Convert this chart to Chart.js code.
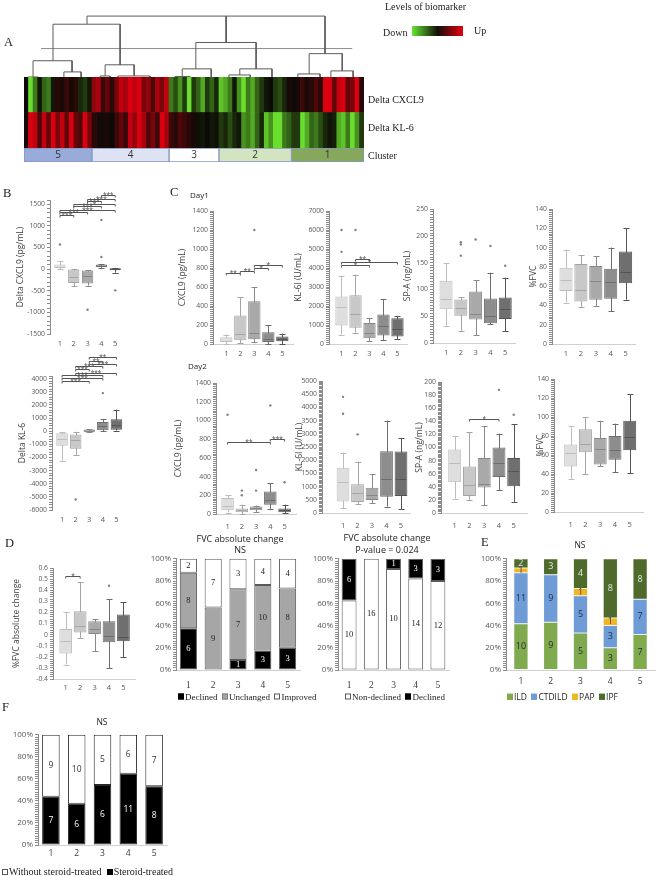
<!DOCTYPE html>
<html>
<head>
<meta charset="utf-8">
<script src="https://cdn.jsdelivr.net/npm/chart.js@4"></script>
<style>
  body { margin: 0; background: #fff; }
  #page { position: relative; width: 658px; height: 876px; overflow: hidden; }
  canvas { position: absolute; }
  .t { position: absolute; white-space: nowrap; line-height: 1; color: #222; will-change: transform; }
  .serif { font-family: 'Liberation Serif', serif; }
  .sans { font-family: 'Open Sans', sans-serif; }
</style>
</head>
<body>
<div id="page"></div>
<script>
// ---------- data ----------
const groups = [1, 2, 3, 4, 5];

// Panel A: heatmap columns (patients ordered by cluster 5,4,3,2,1), scaled deltas
const cxcl9Delta = [0, -1, -0.6, -0.1, -0.5, -0.6, -0.1, 0.2, 0.1, 0.3, 0.1, 0.2, -0.2, -0.3, -0.1,
  0.7, 0.8, 0.3, 0.5, 0.2, 0.6, 0.9, 0.8, 1, 0.9, 1, 0.6, 0.7, 0.4, 0.8, 0.6, 0.9,
  -0.6, -0.4, -0.7, -0.3, -1, -0.3, -0.5, -0.8, -0.3, -0.5, -0.2,
  -0.9, -0.8, -0.6, -0.1, -0.7, -1, -0.6, -0.8, -0.5, -0.3, -0.1, 0, -0.3, -0.4, -0.2, 0.1,
  0, 0.1, 0.3, 0.1, 0.2, 0.4, 0.2, 1, 1, 0.5, 0.9, 1, 0.5, 0.6, 1, 0.2];
const kl6Delta = [0.1, 1, 0.9, 0.4, 0.9, 0.5, 1, 0.6, 0.9, 0.5, 1, 0.5, 0.4, 1, 0.6,
  0.2, 0.1, 0.05, 0.1, 0, 0.3, 0.5, 0.3, 0.9, 0.7, 1, 0.8, 0.4, 0.6, 0.3, 1, 0.8,
  0.3, 0.2, 0.4, 0.3, 0.2, 0.1, -0.05, -0.1, 0, -0.1, -0.05,
  -0.3, -0.2, -0.4, -0.2, -0.1, -0.7, -0.6, -0.8, -0.5, -0.2, -0.9, -0.7, -1, -1, -0.6, -0.5,
  -0.3, -0.3, -1, -0.8, -0.5, -0.6, -0.4, -0.2, -0.1, -0.15, -0.8, -0.9, -0.6, -1, -0.7, -0.3];
const clusterOrder = ['5', '4', '3', '2', '1'];
const clusterSizes = [15, 17, 11, 16, 16];
const clusterFills = ['#98abd9', '#dde3f2', '#ffffff', '#d3e4c1', '#86a85b'];
// dendrogram merges: [left x, right x, join height, left child height, right child height] (x in columns)
const dendroLinks = [
  [13.9, 44.6, 61, 53, 35], [44.6, 66.4, 61, 35, 24],
  [6.4, 21.2, 53, 17, 13], [2.0, 10.6, 17, 1, 6], [0.9, 3.1, 1, 0, 0], [8.8, 12.6, 6, 0, 0],
  [17.9, 24.3, 13, 2, 2], [16.8, 19.0, 2, 0, 0], [20.7, 27.8, 2, 0, 0],
  [37.9, 51.2, 35, 9, 9], [34.9, 41.3, 9, 1.5, 0], [33.3, 36.6, 1.5, 0, 0],
  [47.6, 54.7, 9, 3, 0], [45.2, 49.9, 3, 0, 0],
  [62.9, 70.2, 24, 4, 7], [60.4, 65.3, 4, 0, 0], [67.7, 72.6, 7, 0, 0]
];
const cutLine = [3.75, 72.4, 29];

// Box plots: [min, q1, median, q3, max]; outliers [cluster, value]; brackets [from, to, level, label]
const deltaCxcl9Box = [[0, 20, 50, 110, 180], [-400, -320, -170, -10, 10], [-380, -330, -150, -30, -20], [30, 45, 80, 106, 120], [-80, -25, -5, 20, 30]];
const deltaCxcl9Out = [[1, 570], [3, -940], [4, 1140], [4, 280], [5, -490]];
const deltaCxcl9Sig = [[1, 2, 1260, '***'], [1, 3, 1320, '***'], [1, 5, 1380, '***'], [2, 4, 1450, '***'], [2, 5, 1510, '*'], [3, 4, 1570, '***'], [3, 5, 1630, '***'], [4, 5, 1720, '***']];

const deltaKl6Box = [[-2250, -1100, -600, -150, -100], [-1800, -1330, -640, -250, -50], [-60, -40, 30, 120, 150], [0, 80, 380, 700, 920], [50, 100, 460, 900, 1640]];
const deltaKl6Out = [[2, -5200], [4, 2900]];
const deltaKl6Sig = [[1, 3, 3850, '***'], [1, 4, 4080, '***'], [1, 4, 4270, '***'], [2, 5, 4450, '***'], [2, 3, 4700, '***'], [2, 4, 4950, '***'], [3, 5, 5150, '***'], [3, 4, 5370, '**'], [3, 5, 5620, '**']];

const cxcl9Day1Box = [[0, 20, 35, 70, 100], [10, 40, 110, 300, 490], [20, 50, 120, 450, 600], [0, 20, 50, 125, 200], [0, 30, 50, 80, 110]];
const cxcl9Day1Out = [[3, 1200]];
const cxcl9Day1Sig = [[1, 2, 750, '**'], [2, 3, 772, '**'], [3, 4, 800, '*'], [3, 5, 835, '*']];

const kl6Day1Box = [[500, 970, 1950, 2500, 3600], [600, 860, 1600, 2560, 3650], [150, 300, 600, 1100, 1380], [200, 450, 950, 1550, 2350], [250, 400, 800, 1350, 1480]];
const kl6Day1Out = [[1, 6000], [1, 4850], [2, 6000]];
const kl6Day1Sig = [[1, 3, 4180, '*'], [1, 5, 4330, '*'], [2, 3, 4480, '**']];

const spaDay1Box = [[32, 63, 82, 116, 149], [22, 51, 65, 81, 85], [14, 44, 55, 96, 117], [35, 37, 50, 83, 131], [22, 45, 63, 85, 122]];
const spaDay1Out = [[2, 188], [2, 184], [2, 163], [3, 193], [4, 181], [5, 144]];

const fvcDay1Box = [[43, 55, 66, 79, 98], [38, 44, 56, 83, 92], [39, 46, 65, 81, 91], [34, 47, 64, 78, 100], [46, 63, 75, 96, 120]];

const cxcl9Day2Box = [[15, 40, 90, 170, 200], [0, 20, 40, 60, 100], [20, 40, 60, 80, 90], [50, 100, 150, 240, 330], [10, 20, 40, 60, 100]];
const cxcl9Day2Out = [[1, 1060], [2, 250], [2, 200], [3, 470], [3, 250], [4, 1160], [5, 340]];
const cxcl9Day2Sig = [[1, 4, 770, '**'], [4, 5, 800, '***']];

const kl6Day2Box = [[180, 440, 1180, 1710, 2290], [350, 420, 770, 1090, 1950], [370, 490, 680, 960, 1480], [240, 620, 1270, 2340, 3500], [150, 640, 1300, 2330, 2850]];
const kl6Day2Out = [[1, 4400], [1, 3760], [2, 2980]];

const spaDay2Box = [[22, 47, 77, 97, 118], [20, 26, 42, 71, 123], [12, 39, 45, 84, 133], [35, 55, 77, 100, 121], [17, 41, 64, 84, 136]];
const spaDay2Out = [[4, 188], [5, 150]];
const spaDay2Sig = [[2, 4, 143, '*']];

const fvcDay2Box = [[35, 48, 62, 71, 90], [40, 63, 72, 87, 100], [48, 50, 66, 78, 96], [42, 55, 65, 80, 93], [41, 65, 79, 96, 124]];

const fvcChangeBox = [[-0.27, -0.17, -0.06, 0.05, 0.2], [-0.03, 0.02, 0.08, 0.21, 0.47], [-0.15, 0, 0.05, 0.12, 0.14], [-0.3, -0.07, -0.01, 0.12, 0.32], [-0.2, -0.06, -0.02, 0.18, 0.29]];
const fvcChangeOut = [[4, 0.44]];
const fvcChangeSig = [[1, 2, 0.53, '*']];

// Stacked bars (patient counts)
const declined = [6, 0, 1, 3, 3];
const unchanged = [8, 9, 7, 10, 8];
const improved = [2, 7, 3, 4, 4];
const nonDeclined = [10, 16, 10, 14, 12];
const ild = [10, 9, 5, 3, 7];
const ctdild = [11, 9, 5, 3, 7];
const pap = [1, 0, 1, 1, 0];
const ipf = [2, 3, 4, 8, 8];
const steroid = [7, 6, 6, 11, 8];
const noSteroid = [9, 10, 5, 6, 7];

// ---------- helpers ----------
Chart.defaults.font.family = "'Open Sans', sans-serif";
Chart.defaults.color = '#595959';
const page = document.getElementById('page');
const boxFills = ['#dedede', '#c8c8c8', '#a9a9a9', '#8d8d8d', '#6f6f6f'];
const boxLines = ['#bdbdbd', '#a5a5a5', '#888888', '#6d6d6d', '#545454'];

function addCanvas(x, y, w, h) {
  const c = document.createElement('canvas');
  c.width = w; c.height = h;
  c.style.left = x + 'px'; c.style.top = y + 'px';
  c.style.width = w + 'px'; c.style.height = h + 'px';
  page.appendChild(c);
  return c;
}

function txt(s, x, cy, size, cls, align) {
  const d = document.createElement('div');
  d.className = 't ' + cls;
  d.textContent = s;
  d.style.fontSize = size + 'px';
  d.style.left = x + 'px';
  d.style.top = cy + 'px';
  d.style.transform = align === 'center' ? 'translate(-50%,-50%)' : 'translateY(-50%)';
  page.appendChild(d);
}

function legend(x, cy, items, cls, size) {
  const d = document.createElement('div');
  d.className = 't ' + cls;
  d.style.fontSize = size + 'px';
  d.style.left = x + 'px';
  d.style.top = cy + 'px';
  d.style.transform = 'translateY(-50%)';
  d.innerHTML = items.map(it =>
    '<span style="display:inline-block;width:6px;height:6px;box-sizing:border-box;margin-right:1px;background:' +
    it.fill + ';border:1px solid ' + it.edge + '"></span>' + it.label).join('&nbsp;&nbsp;');
  page.appendChild(d);
}

// whiskers, medians and significance brackets for the box plots
Chart.register({
  id: 'boxExtras',
  beforeDatasetsDraw(chart, args, opts) {
    if (!opts.stats) return;
    const { ctx, scales: { x, y } } = chart;
    ctx.save();
    ctx.lineWidth = 1;
    opts.stats.forEach((s, i) => {
      const cx = Math.round(x.getPixelForValue(groups[i])) + 0.5;
      ctx.strokeStyle = boxLines[i];
      ctx.beginPath();
      ctx.moveTo(cx, y.getPixelForValue(s[0]));
      ctx.lineTo(cx, y.getPixelForValue(s[4]));
      [s[0], s[4]].forEach(v => {
        const py = Math.round(y.getPixelForValue(v)) + 0.5;
        ctx.moveTo(cx - 3, py); ctx.lineTo(cx + 3, py);
      });
      ctx.stroke();
    });
    ctx.restore();
  },
  afterDatasetsDraw(chart, args, opts) {
    if (!opts.stats) return;
    const { ctx, scales: { x, y } } = chart;
    const meta = chart.getDatasetMeta(0);
    ctx.save();
    ctx.lineWidth = 1;
    opts.stats.forEach((s, i) => {
      const el = meta.data[i];
      const py = Math.round(y.getPixelForValue(s[2])) + 0.5;
      ctx.strokeStyle = boxLines[i];
      ctx.beginPath();
      ctx.moveTo(el.x - el.width / 2 + 1, py); ctx.lineTo(el.x + el.width / 2 - 1, py);
      ctx.stroke();
    });
    ctx.strokeStyle = '#555';
    ctx.fillStyle = '#444';
    ctx.font = "6.5px 'Open Sans'";
    ctx.textAlign = 'center';
    ctx.textBaseline = 'bottom';
    (opts.brackets || []).forEach(([a, b, v, lab]) => {
      const x1 = x.getPixelForValue(a), x2 = x.getPixelForValue(b);
      const py = Math.round(y.getPixelForValue(v)) + 0.5;
      ctx.beginPath();
      ctx.moveTo(x1, py + 2); ctx.lineTo(x1, py); ctx.lineTo(x2, py); ctx.lineTo(x2, py + 2);
      ctx.stroke();
      ctx.fillText(lab, (x1 + x2) / 2, py + 2.5);
    });
    ctx.restore();
  }
});

// text inside stacked segments
Chart.register({
  id: 'segLabels',
  afterDatasetsDraw(chart, args, opts) {
    if (!opts.text) return;
    const ctx = chart.ctx;
    ctx.save();
    ctx.font = opts.font;
    ctx.textAlign = 'center';
    ctx.textBaseline = 'middle';
    chart.data.datasets.forEach((ds, di) => {
      chart.getDatasetMeta(di).data.forEach((el, i) => {
        const s = opts.text[di][i];
        if (!s) return;
        ctx.fillStyle = opts.colors[di];
        const horiz = chart.options.indexAxis === 'y';
        ctx.fillText(String(s), horiz ? (el.x + el.base) / 2 : el.x, horiz ? el.y + 0.5 : (el.y + el.base) / 2);
      });
    });
    ctx.restore();
  }
});

function boxChart(o) {
  const padT = o.padT || 12, padB = 20, padR = 4;
  const cv = addCanvas(o.l - o.padL, o.t - padT, o.padL + (o.r - o.l) + padR, padT + (o.b - o.t) + padB);
  const isMajor = v => Math.abs(v / o.major - Math.round(v / o.major)) < 1e-6;
  new Chart(cv, {
    type: 'bar',
    data: {
      datasets: [
        {
          data: o.stats.map((s, i) => ({ x: groups[i], y: [s[1], s[3]] })),
          backgroundColor: boxFills, borderColor: boxLines, borderWidth: 1, borderSkipped: false,
          barPercentage: o.barPct || 0.88, categoryPercentage: 1, order: 2
        },
        {
          type: 'scatter',
          data: (o.outliers || []).map(p => ({ x: p[0], y: p[1] })),
          pointRadius: 1.2, backgroundColor: '#808080', borderColor: '#808080', borderWidth: 0, order: 1
        }
      ]
    },
    options: {
      responsive: false, animation: false, devicePixelRatio: 1,
      layout: { padding: { top: padT, right: padR } },
      plugins: {
        legend: { display: false }, tooltip: { enabled: false },
        boxExtras: { stats: o.stats, brackets: o.brackets || [] }
      },
      scales: {
        x: {
          type: 'linear', offset: false, min: o.xMin, max: o.xMax,
          afterFit: s => { s.height = padB; },
          afterBuildTicks: s => { s.ticks = groups.map(v => ({ value: v })); },
          grid: { display: false, drawTicks: false }, border: { color: o.xLine || '#d0d0d0' },
          ticks: {
            autoSkip: false, maxRotation: 0, padding: o.xPad || 5,
            font: { size: 7.5 }, color: '#595959',
            callback: v => String(v)
          }
        },
        y: {
          min: o.yMin, max: o.yMax,
          afterFit: s => { s.width = o.padL; },
          border: { color: '#8c8c8c' },
          grid: { drawOnChartArea: false, tickLength: 3, color: '#8c8c8c' },
          ticks: {
            stepSize: o.minor, autoSkip: false, padding: 2, font: { size: 6.8 }, color: '#595959',
            callback: v => isMajor(v) ? String(+v.toFixed(2)) : ''
          },
          title: { display: true, text: o.title, font: { size: 8.5 }, color: '#404040', padding: 0 }
        }
      }
    }
  });
}

function stackChart(o) {
  const padT = 6, padR = 2;
  const totals = groups.map((g, i) => o.series.reduce((a, s) => a + s.counts[i], 0));
  const cv = addCanvas(o.l - o.padL, o.t - padT, o.padL + (o.r - o.l) + padR, padT + (o.b - o.t) + o.padB);
  new Chart(cv, {
    type: 'bar',
    data: {
      labels: groups.map(String),
      datasets: o.series.map(s => ({
        label: s.label,
        data: s.counts.map((c, i) => c / totals[i] * 100),
        backgroundColor: s.fill, borderColor: o.edge, borderWidth: o.edgeW, borderSkipped: false,
        barPercentage: o.barPct, categoryPercentage: 1
      }))
    },
    options: {
      responsive: false, animation: false, devicePixelRatio: 1,
      layout: { padding: { top: padT, right: padR } },
      plugins: {
        legend: { display: false }, tooltip: { enabled: false },
        segLabels: { text: o.series.map(s => s.counts), colors: o.series.map(s => s.text), font: o.labelFont }
      },
      scales: {
        x: {
          stacked: true, afterFit: s => { s.height = o.padB; },
          grid: { display: false, drawTicks: false }, border: { color: '#d0d0d0' },
          ticks: { padding: o.xPad, font: o.xFont, color: '#404040', maxRotation: 0 }
        },
        y: {
          stacked: true, min: 0, max: 100,
          afterFit: s => { s.width = o.padL; },
          border: { color: '#8c8c8c' },
          grid: { drawOnChartArea: false, tickLength: 3, color: '#8c8c8c' },
          ticks: {
            stepSize: 2, autoSkip: false, padding: 2, font: { size: 8 }, color: '#595959',
            callback: v => Math.round(v) % 20 === 0 ? Math.round(v) + '%' : ''
          }
        }
      }
    }
  });
}

function heatColor(v) {
  const base = [12, 10, 6];
  const top = v < 0 ? [105, 222, 45] : [218, 0, 16];
  const t = Math.pow(Math.min(1, Math.abs(v)), 1.25);
  return 'rgb(' + base.map((b, j) => Math.round(b + (top[j] - b) * t)).join(',') + ')';
}

// ---------- Panel A ----------
const dendroPts = [];
dendroLinks.forEach(([xl, xr, h, hl, hr]) => {
  dendroPts.push({ x: xl, y: hl }, { x: xl, y: h }, { x: xr, y: h }, { x: xr, y: hr }, { x: xr, y: null });
});
new Chart(addCanvas(24, 10, 340, 68), {
  type: 'scatter',
  data: {
    datasets: [
      { data: dendroPts, showLine: true, spanGaps: false, borderColor: '#5c5c5c', borderWidth: 1, pointRadius: 0 },
      { data: [{ x: cutLine[0], y: cutLine[2] }, { x: cutLine[1], y: cutLine[2] }], showLine: true, borderColor: '#8c8c8c', borderWidth: 1, pointRadius: 0 }
    ]
  },
  options: {
    responsive: false, animation: false, devicePixelRatio: 1,
    plugins: { legend: { display: false }, tooltip: { enabled: false } },
    scales: { x: { display: false, min: 0, max: 75 }, y: { display: false, min: 0, max: 67 } }
  }
});

const patients = cxcl9Delta.map((v, i) => i + 1);
new Chart(addCanvas(24, 77, 340, 71), {
  type: 'bar',
  data: {
    labels: patients,
    datasets: [
      { data: kl6Delta.map(() => 1), backgroundColor: kl6Delta.map(heatColor) },
      { data: cxcl9Delta.map(() => 1), backgroundColor: cxcl9Delta.map(heatColor) }
    ]
  },
  options: {
    responsive: false, animation: false, devicePixelRatio: 1,
    datasets: { bar: { barPercentage: 1, categoryPercentage: 1, borderWidth: 0 } },
    plugins: { legend: { display: false }, tooltip: { enabled: false } },
    scales: { x: { display: false, stacked: true }, y: { display: false, stacked: true, min: 0, max: 2 } }
  }
});

new Chart(addCanvas(24, 148, 340, 14), {
  type: 'bar',
  data: {
    labels: ['Cluster'],
    datasets: clusterOrder.map((c, k) => ({
      data: [clusterSizes[k]], backgroundColor: clusterFills[k],
      borderColor: '#8595c2', borderWidth: 1, borderSkipped: false,
      barPercentage: 1, categoryPercentage: 1
    }))
  },
  options: {
    indexAxis: 'y', responsive: false, animation: false, devicePixelRatio: 1,
    plugins: {
      legend: { display: false }, tooltip: { enabled: false },
      segLabels: { text: clusterOrder.map(c => [c]), colors: clusterOrder.map(() => '#333'), font: "10px 'Open Sans'" }
    },
    scales: { x: { display: false, stacked: true, min: 0, max: 75 }, y: { display: false, stacked: true } }
  }
});

// ---------- Panel B ----------
boxChart({ l: 50, t: 200, r: 125, b: 334, padL: 35, padT: 26, xMin: 0.28, xMax: 5.71, xLine: 'rgba(0,0,0,0)', xPad: 5,
  yMin: -1500, yMax: 1600, major: 500, minor: 100, title: 'Delta CXCL9 (pg/mL)',
  stats: deltaCxcl9Box, outliers: deltaCxcl9Out, brackets: deltaCxcl9Sig, barPct: 0.82 });
boxChart({ l: 52, t: 376, r: 125, b: 510, padL: 35, padT: 28, xMin: 0.26, xMax: 5.63, xLine: 'rgba(0,0,0,0)', xPad: 5,
  yMin: -6000, yMax: 4200, major: 1000, minor: 200, title: 'Delta KL-6',
  stats: deltaKl6Box, outliers: deltaKl6Out, brackets: deltaKl6Sig, barPct: 0.85 });

// ---------- Panel C ----------
boxChart({ l: 213, t: 211, r: 293, b: 344, padL: 36, xMin: 0.05, xMax: 5.76,
  yMin: 0, yMax: 1400, major: 200, minor: 20, title: 'CXCL9 (pg/mL)',
  stats: cxcl9Day1Box, outliers: cxcl9Day1Out, brackets: cxcl9Day1Sig });
boxChart({ l: 329, t: 211, r: 407, b: 344, padL: 36, xMin: 0.107, xMax: 5.68,
  yMin: 0, yMax: 7000, major: 1000, minor: 100, title: 'KL-6I (U/mL)',
  stats: kl6Day1Box, outliers: kl6Day1Out, brackets: kl6Day1Sig });
boxChart({ l: 433, t: 209, r: 515, b: 343, padL: 31, xMin: 0.12, xMax: 5.66,
  yMin: 0, yMax: 250, major: 50, minor: 5, title: 'SP-A (ng/mL)',
  stats: spaDay1Box, outliers: spaDay1Out });
boxChart({ l: 552, t: 209, r: 635, b: 344, padL: 24, xMin: 0.06, xMax: 5.63,
  yMin: 0, yMax: 140, major: 20, minor: 2, title: '%FVC',
  stats: fvcDay1Box });

boxChart({ l: 216, t: 383, r: 296, b: 514, padL: 43, xMin: 0.19, xMax: 5.8, xPad: 8,
  yMin: 0, yMax: 1400, major: 200, minor: 20, title: 'CXCL9 (pg/mL)',
  stats: cxcl9Day2Box, outliers: cxcl9Day2Out, brackets: cxcl9Day2Sig });
boxChart({ l: 322, t: 381, r: 410, b: 513, padL: 28, xMin: -0.45, xMax: 5.62, xPad: 8,
  yMin: 0, yMax: 5000, major: 500, minor: 50, title: 'KL-6I (U/mL)',
  stats: kl6Day2Box, outliers: kl6Day2Out });
boxChart({ l: 441, t: 382, r: 527, b: 513, padL: 27, xMin: 0.07, xMax: 5.9, xPad: 8,
  yMin: 0, yMax: 200, major: 20, minor: 2, title: 'SP-A (ng/mL)',
  stats: spaDay2Box, outliers: spaDay2Out, brackets: spaDay2Sig });
boxChart({ l: 554, t: 379, r: 643, b: 512, padL: 19, xMin: -0.13, xMax: 5.9, xPad: 8,
  yMin: 0, yMax: 140, major: 20, minor: 2, title: '%FVC',
  stats: fvcDay2Box });

// ---------- Panel D ----------
boxChart({ l: 53, t: 568, r: 135, b: 679, padL: 42, xMin: 0.12, xMax: 5.8, xPad: 4,
  yMin: -0.4, yMax: 0.6, major: 0.1, minor: 0.02, title: '%FVC absolute change',
  stats: fvcChangeBox, outliers: fvcChangeOut, brackets: fvcChangeSig });

const serifLabel = "8.5px 'Liberation Serif'";
stackChart({ l: 176, t: 558, r: 300, b: 670, padL: 32, padB: 22, xPad: 10, barPct: 0.69,
  edge: '#595959', edgeW: 1, labelFont: serifLabel, xFont: { family: "'Liberation Serif'", size: 9.5 },
  series: [
    { label: 'Declined', counts: declined, fill: '#000000', text: '#ffffff' },
    { label: 'Unchanged', counts: unchanged, fill: '#a6a6a6', text: '#222222' },
    { label: 'Improved', counts: improved, fill: '#ffffff', text: '#222222' }
  ] });
stackChart({ l: 338, t: 558, r: 449, b: 670, padL: 32, padB: 22, xPad: 10, barPct: 0.67,
  edge: '#595959', edgeW: 1, labelFont: serifLabel, xFont: { family: "'Liberation Serif'", size: 9.5 },
  series: [
    { label: 'Non-declined', counts: nonDeclined, fill: '#ffffff', text: '#222222' },
    { label: 'Declined', counts: declined, fill: '#000000', text: '#ffffff' }
  ] });

// ---------- Panel E ----------
stackChart({ l: 506, t: 558, r: 655, b: 670, padL: 30, padB: 20, xPad: 6, barPct: 0.48,
  edge: '#e8e8e8', edgeW: 0.5, labelFont: "9px 'Open Sans'", xFont: { size: 8.5 },
  series: [
    { label: 'ILD', counts: ild, fill: '#7fab4e', text: '#2b2b3a' },
    { label: 'CTDILD', counts: ctdild, fill: '#6f9bd6', text: '#23304a' },
    { label: 'PAP', counts: pap, fill: '#f2b622', text: '#3a3a3a' },
    { label: 'IPF', counts: ipf, fill: '#4f6b2c', text: '#e6e6e6' }
  ] });

// ---------- Panel F ----------
stackChart({ l: 38, t: 734, r: 167, b: 845, padL: 32, padB: 20, xPad: 3, barPct: 0.68,
  edge: '#262626', edgeW: 1, labelFont: "8.5px 'Open Sans'", xFont: { size: 8.5 },
  series: [
    { label: 'Steroid-treated', counts: steroid, fill: '#000000', text: '#ffffff' },
    { label: 'Without steroid-treated', counts: noSteroid, fill: '#ffffff', text: '#333333' }
  ] });

// ---------- texts ----------
txt('A', 4, 42, 12.5, 'serif');
txt('Levels of biomarker', 385, 7, 10, 'serif');
txt('Down', 383, 33, 10, 'serif');
txt('Up', 474, 31, 10, 'serif');
const grad = document.createElement('div');
grad.style.cssText = 'position:absolute;left:412px;top:26px;width:51px;height:10px;background:linear-gradient(to right,#66e633,#101008 50%,#e60010)';
page.appendChild(grad);
txt('Delta CXCL9', 368, 100, 10, 'serif');
txt('Delta KL-6', 368, 128, 10, 'serif');
txt('Cluster', 368, 156, 10, 'serif');

txt('B', 3, 193, 12.5, 'serif');
txt('C', 170, 192, 12.5, 'serif');
txt('Day1', 190, 195, 8, 'sans');
txt('Day2', 188, 366, 8, 'sans');
txt('D', 5, 543, 12.5, 'serif');
txt('FVC absolute change', 240, 538, 9, 'sans', 'center');
txt('NS', 240, 549, 9, 'sans', 'center');
txt('FVC absolute change', 387, 537, 9, 'sans', 'center');
txt('P-value = 0.024', 387, 549, 9, 'sans', 'center');
txt('E', 481, 542, 12.5, 'serif');
txt('NS', 580, 545, 8.5, 'sans', 'center');
txt('F', 2, 707, 12.5, 'serif');
txt('NS', 102, 722, 8.5, 'sans', 'center');

legend(178, 697, [
  { label: 'Declined', fill: '#000', edge: '#000' },
  { label: 'Unchanged', fill: '#a6a6a6', edge: '#7f7f7f' },
  { label: 'Improved', fill: '#fff', edge: '#595959' }], 'serif', 9);
legend(345, 697, [
  { label: 'Non-declined', fill: '#fff', edge: '#595959' },
  { label: 'Declined', fill: '#000', edge: '#000' }], 'serif', 9);
legend(507, 697, [
  { label: 'ILD', fill: '#7fab4e', edge: '#7fab4e' },
  { label: 'CTDILD', fill: '#6f9bd6', edge: '#6f9bd6' },
  { label: 'PAP', fill: '#f2b622', edge: '#f2b622' },
  { label: 'IPF', fill: '#4f6b2c', edge: '#4f6b2c' }], 'sans', 8.5);
legend(2, 872, [
  { label: 'Without steroid-treated', fill: '#fff', edge: '#595959' },
  { label: 'Steroid-treated', fill: '#000', edge: '#000' }], 'serif', 10);
</script>
</body>
</html>
